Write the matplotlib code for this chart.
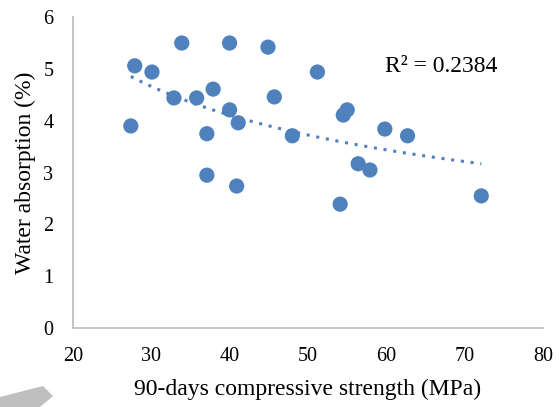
import numpy as np
import matplotlib
matplotlib.use('Agg')
from matplotlib import pyplot as plt
from matplotlib.patches import Polygon

# 90-day compressive strength (MPa) vs water absorption (%)
strength = [27.4, 27.9, 30.1, 32.9, 33.9, 35.8, 37.9, 37.1, 37.1, 40.0, 40.0, 41.1, 40.9,
            44.9, 45.7, 48.0, 51.2, 54.5, 55.0, 54.1, 56.4, 57.9, 59.8, 62.7, 72.1]
absorption = [3.90, 5.06, 4.94, 4.44, 5.50, 4.44, 4.61, 3.75, 2.95, 5.50, 4.21, 3.96, 2.74,
              5.42, 4.46, 3.71, 4.94, 4.11, 4.21, 2.39, 3.17, 3.05, 3.84, 3.71, 2.55]
r2_label = 'R² = 0.2384'
x_ticks = [20, 30, 40, 50, 60, 70, 80]
y_ticks = [0, 1, 2, 3, 4, 5, 6]

plt.rcParams['font.family'] = ['Liberation Serif', 'DejaVu Serif']

fig = plt.figure(figsize=(5.6, 4.07), dpi=100)
ax = fig.add_axes([0.130, 0.194, 0.840, 0.764])

x = np.array(strength)
y = np.array(absorption)

# power trendline, like Excel's
b, ln_a = np.polyfit(np.log(x), np.log(y), 1)
xs = np.linspace(x.min(), x.max(), 100)
ax.plot(xs, np.exp(ln_a) * xs ** b, linestyle=(0, (1, 2.2)), color='#4f81bd',
        linewidth=2.2, zorder=3)

ax.scatter(x, y, s=120, color='#4f81bd', edgecolors='none', zorder=4)

ax.text(59.8, 5.04, r2_label, fontsize=17, color='black', va='center')

ax.set_xlim(20, 80)
ax.set_ylim(0, 6)
ax.set_xticks(x_ticks)
ax.set_yticks(y_ticks)
ax.tick_params(length=0, labelsize=14.5)
ax.tick_params(axis='x', pad=14)
ax.tick_params(axis='y', pad=14)
for s in ['top', 'right']:
    ax.spines[s].set_visible(False)
for s in ['left', 'bottom']:
    ax.spines[s].set_color('#bfbfbf')
    ax.spines[s].set_linewidth(1.3)

ax.set_xlabel('90-days compressive strength (MPa)', fontsize=17, labelpad=9)
ax.set_ylabel('Water absorption (%)', fontsize=17, labelpad=5)

# grey arrow fragment in the lower-left corner
fig.patches.append(Polygon([[0.0, 0.0246], [0.0768, 0.0516], [0.0946, 0.027],
                            [0.0714, 0.0], [0.0, 0.0]], closed=True,
                           transform=fig.transFigure,
                           facecolor='#bfbfbf', edgecolor='none'))

fig.savefig('out.png', dpi=100)
